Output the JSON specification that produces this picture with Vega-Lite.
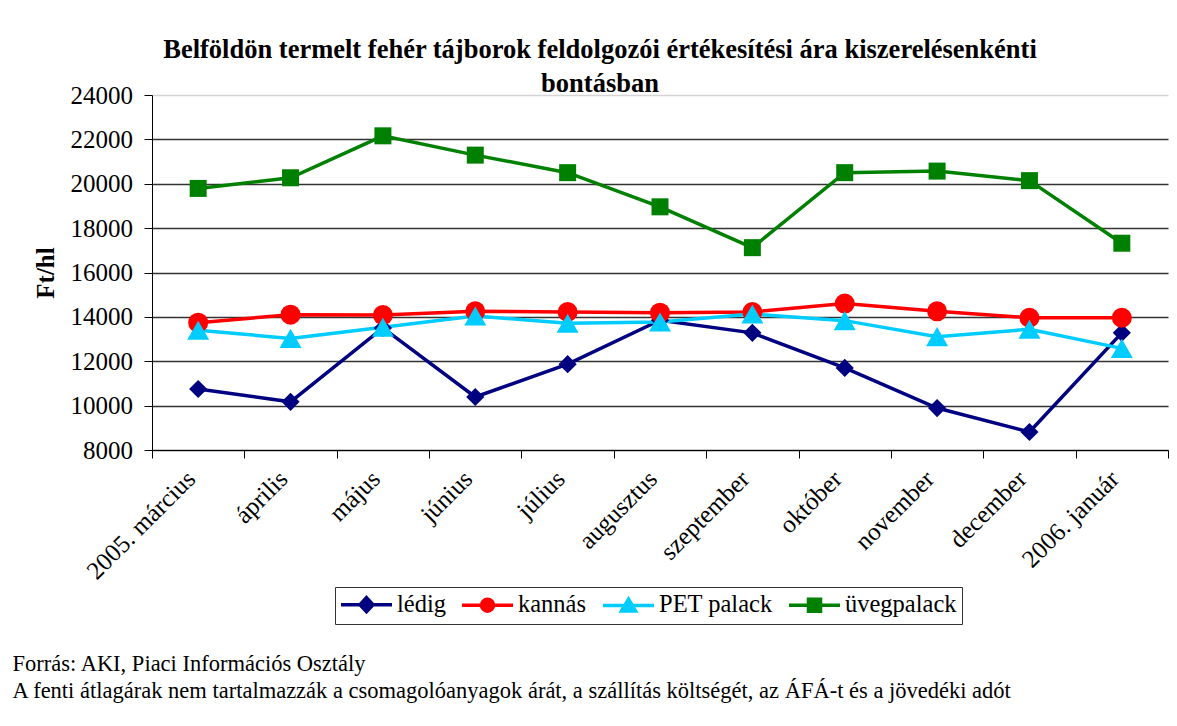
{
  "$schema": "https://vega.github.io/schema/vega-lite/v6.json",
  "width": 1016,
  "height": 355,
  "autosize": {"type": "none"},
  "padding": {"left": 152, "top": 95, "right": 9, "bottom": 276},
  "background": "white",
  "title": {
    "text": ["Belföldön termelt fehér tájborok feldolgozói értékesítési ára kiszerelésenkénti", "bontásban"],
    "font": "Liberation Serif",
    "fontSize": 26.5,
    "fontWeight": "bold",
    "lineHeight": 34,
    "anchor": "middle",
    "frame": "group",
    "dx": -60,
    "offset": -14,
    "color": "black"
  },
  "data": {
    "values": [
      {"honap": "2005. március", "sorozat": "lédig", "ertek": 10750},
      {"honap": "április", "sorozat": "lédig", "ertek": 10170},
      {"honap": "május", "sorozat": "lédig", "ertek": 13500},
      {"honap": "június", "sorozat": "lédig", "ertek": 10390},
      {"honap": "július", "sorozat": "lédig", "ertek": 11870},
      {"honap": "augusztus", "sorozat": "lédig", "ertek": 13850},
      {"honap": "szeptember", "sorozat": "lédig", "ertek": 13280},
      {"honap": "október", "sorozat": "lédig", "ertek": 11700},
      {"honap": "november", "sorozat": "lédig", "ertek": 9890},
      {"honap": "december", "sorozat": "lédig", "ertek": 8810},
      {"honap": "2006. január", "sorozat": "lédig", "ertek": 13280},
      {"honap": "2005. március", "sorozat": "kannás", "ertek": 13740},
      {"honap": "április", "sorozat": "kannás", "ertek": 14100},
      {"honap": "május", "sorozat": "kannás", "ertek": 14080},
      {"honap": "június", "sorozat": "kannás", "ertek": 14250},
      {"honap": "július", "sorozat": "kannás", "ertek": 14220},
      {"honap": "augusztus", "sorozat": "kannás", "ertek": 14190},
      {"honap": "szeptember", "sorozat": "kannás", "ertek": 14220},
      {"honap": "október", "sorozat": "kannás", "ertek": 14600},
      {"honap": "november", "sorozat": "kannás", "ertek": 14250},
      {"honap": "december", "sorozat": "kannás", "ertek": 13960},
      {"honap": "2006. január", "sorozat": "kannás", "ertek": 13960},
      {"honap": "2005. március", "sorozat": "PET palack", "ertek": 13400},
      {"honap": "április", "sorozat": "PET palack", "ertek": 13030},
      {"honap": "május", "sorozat": "PET palack", "ertek": 13530},
      {"honap": "június", "sorozat": "PET palack", "ertek": 14040},
      {"honap": "július", "sorozat": "PET palack", "ertek": 13710},
      {"honap": "augusztus", "sorozat": "PET palack", "ertek": 13770},
      {"honap": "szeptember", "sorozat": "PET palack", "ertek": 14130},
      {"honap": "október", "sorozat": "PET palack", "ertek": 13830},
      {"honap": "november", "sorozat": "PET palack", "ertek": 13110},
      {"honap": "december", "sorozat": "PET palack", "ertek": 13440},
      {"honap": "2006. január", "sorozat": "PET palack", "ertek": 12580},
      {"honap": "2005. március", "sorozat": "üvegpalack", "ertek": 19790},
      {"honap": "április", "sorozat": "üvegpalack", "ertek": 20270},
      {"honap": "május", "sorozat": "üvegpalack", "ertek": 22160},
      {"honap": "június", "sorozat": "üvegpalack", "ertek": 21290},
      {"honap": "július", "sorozat": "üvegpalack", "ertek": 20500},
      {"honap": "augusztus", "sorozat": "üvegpalack", "ertek": 18960},
      {"honap": "szeptember", "sorozat": "üvegpalack", "ertek": 17120},
      {"honap": "október", "sorozat": "üvegpalack", "ertek": 20500},
      {"honap": "november", "sorozat": "üvegpalack", "ertek": 20570},
      {"honap": "december", "sorozat": "üvegpalack", "ertek": 20140},
      {"honap": "2006. január", "sorozat": "üvegpalack", "ertek": 17320}
    ]
  },
  "encoding": {
    "x": {
      "field": "honap",
      "type": "ordinal",
      "bandPosition": 0.5,
      "sort": ["2005. március", "április", "május", "június", "július", "augusztus", "szeptember", "október", "november", "december", "2006. január"],
      "scale": {"type": "band", "paddingInner": 0, "paddingOuter": 0},
      "axis": {
        "title": ["Forrás: AKI, Piaci Információs Osztály", "A fenti átlagárak nem tartalmazzák a csomagolóanyagok árát, a szállítás költségét, az ÁFÁ-t és a jövedéki adót"],
        "titleX": -140,
        "titleY": 202,
        "titleAlign": "left",
        "titleBaseline": "top",
        "titleAngle": 0,
        "titleFont": "Liberation Serif",
        "titleFontSize": 22.5,
        "titleFontWeight": "normal",
        "titleLineHeight": 27,
        "titleColor": "black",
        "tickBand": "extent",
        "labelAngle": -45,
        "labelOffset": -16,
        "labelFont": "Liberation Serif",
        "labelFontSize": 25,
        "labelColor": "black",
        "labelPadding": 8,
        "labelOverlap": false,
        "tickSize": 8,
        "tickColor": "#000000",
        "domainColor": "#000000",
        "grid": false
      }
    },
    "y": {
      "field": "ertek",
      "type": "quantitative",
      "scale": {"domain": [8000, 24000], "nice": false, "zero": false},
      "axis": {
        "values": [8000, 10000, 12000, 14000, 16000, 18000, 20000, 22000, 24000],
        "format": "d",
        "title": "Ft/hl",
        "titleX": -107,
        "titleY": 177.5,
        "titleAngle": 270,
        "titleAlign": "center",
        "titleBaseline": "middle",
        "titleFont": "Liberation Serif",
        "titleFontSize": 25,
        "titleFontWeight": "bold",
        "titleColor": "black",
        "labelFont": "Liberation Serif",
        "labelFontSize": 25,
        "labelColor": "black",
        "labelPadding": 11.5,
        "tickSize": 8,
        "tickColor": "#000000",
        "domainColor": "#000000",
        "grid": true,
        "gridColor": {"condition": {"test": "datum.value === 24000", "value": "#d4d4d4"}, "value": "#333333"},
        "gridWidth": 1.3
      }
    },
    "color": {
      "field": "sorozat",
      "type": "nominal",
      "scale": {
        "domain": ["lédig", "kannás", "PET palack", "üvegpalack"],
        "range": ["#000080", "#FF0000", "#00CCFF", "#008000"]
      },
      "legend": {
        "title": null,
        "orient": "none",
        "direction": "horizontal",
        "legendX": 183,
        "legendY": 492,
        "padding": 5,
        "strokeColor": "#333333",
        "fillColor": "white",
        "symbolSize": 400,
        "symbolStrokeWidth": 3.5,
        "symbolOpacity": 1,
        "labelFont": "Liberation Serif",
        "labelFontSize": 24.5,
        "labelColor": "black",
        "labelOffset": 32.5,
        "columnPadding": 9,
        "encode": {
          "symbols": {
            "update": {
              "shape": {"signal": "datum.value === 'lédig' ? 'M-1.125,0H3.975M1.425,-0.7L2.075,0L1.425,0.7L0.775,0Z' : datum.value === 'kannás' ? 'M-1.125,0H3.975M0.825,0A0.6,0.6,0,1,1,2.025,0A0.6,0.6,0,1,1,0.825,0Z' : datum.value === 'PET palack' ? 'M-1.125,0H3.975M1.425,-0.62L2.125,0.55L0.725,0.55Z' : 'M-1.125,0H3.975M0.825,-0.6H2.025V0.6H0.825Z'"},
              "fill": {"scale": "color", "field": "value"},
              "stroke": {"scale": "color", "field": "value"},
              "strokeWidth": {"value": 3.5},
              "size": {"value": 400},
              "opacity": {"value": 1}
            }
          }
        }
      }
    }
  },
  "layer": [
    {
      "mark": {"type": "line", "strokeWidth": 3.5}
    },
    {
      "transform": [{"filter": "datum.sorozat === 'lédig'"}],
      "mark": {"type": "point", "filled": true, "opacity": 1, "shape": "diamond", "size": 330}
    },
    {
      "transform": [{"filter": "datum.sorozat === 'kannás'"}],
      "mark": {"type": "point", "filled": true, "opacity": 1, "shape": "circle", "size": 400}
    },
    {
      "transform": [{"filter": "datum.sorozat === 'PET palack'"}],
      "mark": {"type": "point", "filled": true, "opacity": 1, "shape": "triangle-up", "size": 484}
    },
    {
      "transform": [{"filter": "datum.sorozat === 'üvegpalack'"}],
      "mark": {"type": "point", "filled": true, "opacity": 1, "shape": "square", "size": 289}
    }
  ],
  "config": {
    "view": {"stroke": null},
    "font": "Liberation Serif"
  }
}
